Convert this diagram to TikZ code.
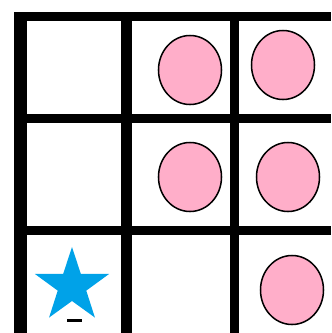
\documentclass[tikz,border=0pt]{standalone}
\usepackage{xcolor}
\usetikzlibrary{shapes.geometric}

\definecolor{rosepink}{HTML}{FFAEC9}
\definecolor{starblue}{HTML}{00A2E8}

\begin{document}
\begin{tikzpicture}[x=0.03cm, y=-0.03cm]
\tikzstyle{gridline} = [line width=0.27cm, black]
\tikzstyle{ball} = [ellipse, draw=black, line width=1.3pt, fill=rosepink, minimum width=1.89cm, minimum height=2.07cm, inner sep=0pt]
\tikzstyle{goal} = [star, star points=5, star point ratio=2.6, fill=starblue, minimum size=2.34cm, inner sep=0pt]

\useasboundingbox (0,0) rectangle (331,333);

% Grid
\draw [gridline] (14,16.5) -- (331,16.5);
\draw [gridline] (14,118.5) -- (331,118.5);
\draw [gridline] (14,230.5) -- (331,230.5);
\draw [gridline, line width=0.39cm] (20.5,12) -- (20.5,333);
\draw [gridline, line width=0.33cm] (126.5,12) -- (126.5,333);
\draw [gridline] (234.5,12) -- (234.5,333);

% Balls
\node (b12) [ball] at (190,70) {};
\node (b13) [ball] at (283,65) {};
\node (b22) [ball] at (190,177) {};
\node (b23) [ball] at (288,177) {};
\node (b33) [ball] at (292,290) {};

% Star
\node (goal) [goal] at (72,286) {};
\draw [line width=0.09cm] (67,320.5) -- (82,320.5);

\end{tikzpicture}
\end{document}
